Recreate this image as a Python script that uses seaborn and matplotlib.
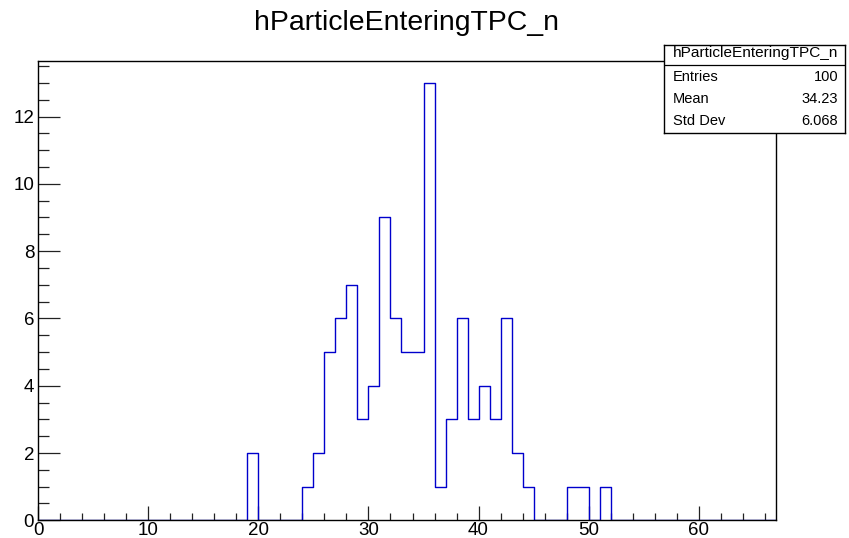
import numpy as np
import matplotlib
matplotlib.use("Agg")
import matplotlib.pyplot as plt
import seaborn as sns
from matplotlib.ticker import MultipleLocator

# Data (bin lower edges, width 1, and counts)
bin_low = [19, 24, 25, 26, 27, 28, 29, 30, 31, 32, 33, 34, 35, 36, 37, 38, 39,
           40, 41, 42, 43, 44, 48, 49, 51]
counts = [2, 1, 2, 5, 6, 7, 3, 4, 9, 6, 5, 5, 13, 1, 3, 6, 3,
          4, 3, 6, 2, 1, 1, 1, 1]
title = "hParticleEnteringTPC_n"
stats_labels = ["Entries", "Mean", "Std Dev"]
stats_values = ["100", "34.23", "6.068"]
x_range = (0, 67)
y_max = 13.65

sns.set_theme(style="white")
plt.rcParams['font.family'] = ['Liberation Sans', 'DejaVu Sans']
plt.rcParams['text.color'] = 'black'
plt.rcParams['xtick.color'] = 'black'
plt.rcParams['ytick.color'] = 'black'

W, H = 849, 538
fig = plt.figure(figsize=(W / 100, H / 100), dpi=100)
L, R, T, B = 38.3, 775.7, 61, 520.3
ax = fig.add_axes([L / W, 1 - B / H, (R - L) / W, (B - T) / H])

centers = np.array(bin_low) + 0.5
sns.histplot(x=centers, weights=counts, binwidth=1, binrange=x_range,
             element="step", fill=False, color="#0000cc", linewidth=1.0, ax=ax)

ax.set_xlim(*x_range)
ax.set_ylim(0, y_max)
ax.set_xlabel("")
ax.set_ylabel("")
for s in ax.spines.values():
    s.set_color("black")
    s.set_linewidth(1.0)

ax.xaxis.set_major_locator(MultipleLocator(10))
ax.xaxis.set_minor_locator(MultipleLocator(2))
ax.yaxis.set_major_locator(MultipleLocator(2))
ax.yaxis.set_minor_locator(MultipleLocator(0.5))
ax.tick_params(which="both", direction="in", top=False, right=False,
               bottom=True, left=True, color="#222222", width=0.9,
               labelcolor="black")
ax.tick_params(axis="y", which="major", length=16, labelsize=13.5, pad=3)
ax.tick_params(axis="y", which="minor", length=8)
ax.tick_params(axis="x", which="major", length=10, labelsize=13.5, pad=1)
ax.tick_params(axis="x", which="minor", length=5)

fig.text(406 / W, 1 - 23 / H, title, ha="center", va="center", fontsize=20.4)

# stats box
bx0, bx1, by0, by1 = 664, 845, 45, 132.5
box = fig.add_axes([bx0 / W, 1 - by1 / H, (bx1 - bx0) / W, (by1 - by0) / H])
box.set_xlim(0, 1)
box.set_ylim(0, 1)
box.set_xticks([])
box.set_yticks([])
box.set_facecolor("white")
for s in box.spines.values():
    s.set_color("black")
    s.set_linewidth(1.0)
hh = by1 - by0
sep = (64.5 - by0) / hh
box.axhline(1 - sep, color="black", linewidth=0.9)
box.text(0.505, 1 - (53 - by0) / hh, title, ha="center", va="center", fontsize=11.1)
rows_y = [77, 99, 121]
for lab, val, yy in zip(stats_labels, stats_values, rows_y):
    yf = 1 - (yy - by0) / hh
    box.text(0.05, yf, lab, ha="left", va="center", fontsize=10.5)
    box.text(0.963, yf, val, ha="right", va="center", fontsize=10.5)

fig.savefig("out.png", dpi=100)
